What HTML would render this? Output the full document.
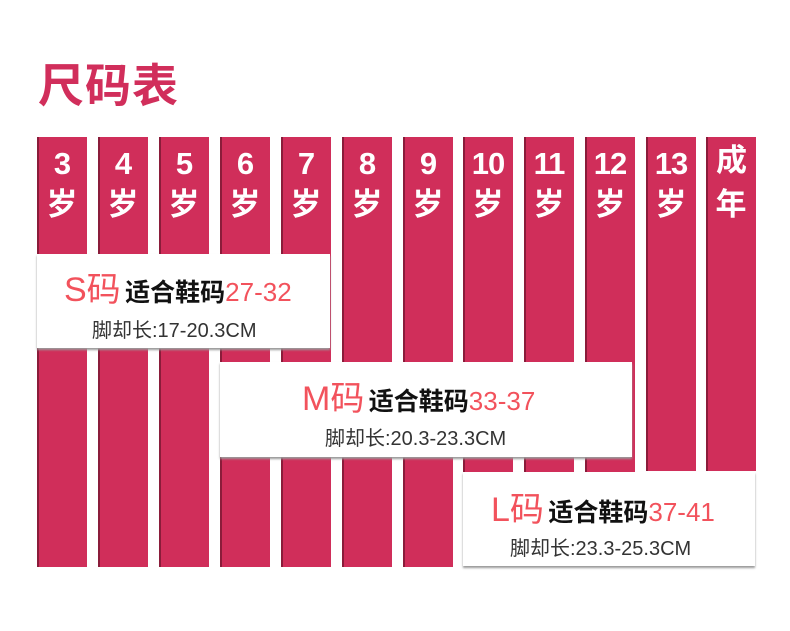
<!DOCTYPE html>
<html><head><meta charset="utf-8"><style>
body{margin:0;width:790px;height:631px;background:#fff;position:relative;overflow:hidden;font-family:"Liberation Sans","Noto Sans CJK SC",sans-serif}
.t{position:absolute;left:38px;top:50px;font-size:46px;font-weight:bold;color:#d12e5b;letter-spacing:1px}
.c{position:absolute;top:137px;width:50px;background:#d02e5a;box-shadow:inset 2px 0 0 #8a1c3a;color:#fff;text-align:center;font-weight:bold}
.c .n{position:absolute;top:9px;left:0;width:100%;font-size:31px;line-height:36px;letter-spacing:-1px}
.c .y{position:absolute;top:50px;left:0;width:100%;font-size:31px;line-height:36px}
.b{position:absolute;background:#fff;box-shadow:0 2px 2px #999}
.l1{position:absolute;white-space:nowrap;line-height:40px}
.big{font-size:34px;color:#f2525c}
.mid{font-size:25px;color:#111;font-weight:bold}
.r{font-size:26px;color:#f2525c}
.l2{position:absolute;white-space:nowrap;font-size:20px;color:#333}
</style></head><body>
<div class="t">尺码表</div>
<div class="c" style="left:37px;height:430px"><div class="n">3</div><div class="y">岁</div></div>
<div class="c" style="left:98px;height:430px"><div class="n">4</div><div class="y">岁</div></div>
<div class="c" style="left:159px;height:430px"><div class="n">5</div><div class="y">岁</div></div>
<div class="c" style="left:220px;height:430px"><div class="n">6</div><div class="y">岁</div></div>
<div class="c" style="left:281px;height:430px"><div class="n">7</div><div class="y">岁</div></div>
<div class="c" style="left:342px;height:430px"><div class="n">8</div><div class="y">岁</div></div>
<div class="c" style="left:403px;height:430px"><div class="n">9</div><div class="y">岁</div></div>
<div class="c" style="left:463px;height:335px"><div class="n">10</div><div class="y">岁</div></div>
<div class="c" style="left:524px;height:335px"><div class="n">11</div><div class="y">岁</div></div>
<div class="c" style="left:585px;height:335px"><div class="n">12</div><div class="y">岁</div></div>
<div class="c" style="left:646px;height:334px"><div class="n">13</div><div class="y">岁</div></div>
<div class="c" style="left:706px;height:334px"><div class="n" style="top:6px">成</div><div class="y">年</div></div>

<div class="b" style="left:37px;top:254px;width:293px;height:94px">
 <div class="l1" style="left:27px;top:16px"><span class="big">S码</span> <span class="mid">适合鞋码</span><span class="r">27-32</span></div>
 <div class="l2" style="left:55px;top:60px">脚却长:17-20.3CM</div>
</div>
<div class="b" style="left:220px;top:362px;width:412px;height:95px">
 <div class="l1" style="left:82px;top:17px"><span class="big">M码</span> <span class="mid">适合鞋码</span><span class="r">33-37</span></div>
 <div class="l2" style="left:105px;top:60px">脚却长:20.3-23.3CM</div>
</div>
<div class="b" style="left:463px;top:472px;width:292px;height:94px">
 <div class="l1" style="left:28px;top:18px"><span class="big">L码</span> <span class="mid">适合鞋码</span><span class="r">37-41</span></div>
 <div class="l2" style="left:47px;top:60px">脚却长:23.3-25.3CM</div>
</div>
</body></html>
